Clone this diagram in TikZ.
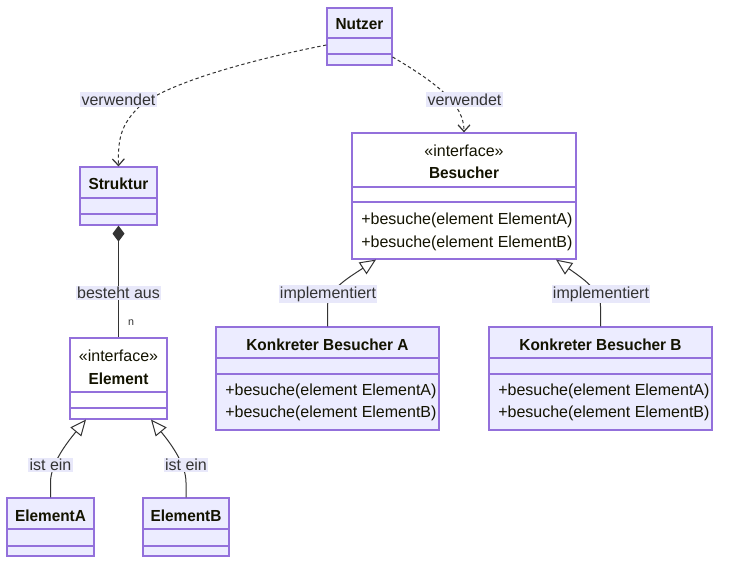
\documentclass[tikz,border=0pt]{standalone}
\usepackage{fontspec}
\setmainfont{Liberation Sans}
\newfontfamily\titlefont[FakeStretch=0.96]{Liberation Sans}
\usetikzlibrary{arrows.meta,fit,calc}
\definecolor{boxfill}{HTML}{ECECFF}
\definecolor{boxline}{HTML}{9370DB}
\definecolor{edgecol}{HTML}{333333}
\definecolor{lblbg}{HTML}{E8E8FA}
\definecolor{txt}{HTML}{131300}
\begin{document}
\begin{tikzpicture}[x=0.75pt,y=-0.75pt,
  cls/.style={draw=boxline, fill=boxfill, line width=0.9pt, inner sep=0pt},
  iface/.style={cls, fill=white},
  divider/.style={draw=boxline, line width=0.9pt},
  title/.style={font=\titlefont\bfseries\fontsize{12}{14}\selectfont, text=txt, inner sep=0pt},
  member/.style={font=\fontsize{12}{14}\selectfont, text=txt, inner sep=0pt, anchor=west},
  stereo/.style={font=\fontsize{12}{14}\selectfont, text=txt, inner sep=0pt},
  elabel/.style={fill=lblbg, text=edgecol, font=\fontsize{12}{14}\selectfont, inner sep=1pt},
  mult/.style={text=edgecol, font=\fontsize{8}{9}\selectfont, inner sep=0pt},
  conn/.style={draw=edgecol, line width=0.75pt},
  dep/.style={conn, dash pattern=on 2.5pt off 2pt, -{Straight Barb[length=5pt,width=9pt,line width=0.9pt]}},
  inherit/.style={conn, -{Triangle[length=12pt,width=10.5pt,fill=white,line width=0.75pt]}},
  comp/.style={conn, {Diamond[length=12pt,width=9pt,fill=edgecol]}-}
]
\path[use as bounding box, fill=white] (0,0) rectangle (729,570);

% ---------- boxes ----------
% Nutzer
\node[cls, fit={(327,8)(392,65)}] (nutzer) {};
\draw[divider] (327,38) -- (392,38) (327,54) -- (392,54);
\node[title] (nutzerT) at (359.5,24) {Nutzer};

% Struktur
\node[cls, fit={(80,167)(157,225)}] (struktur) {};
\draw[divider] (80,198) -- (157,198) (80,214) -- (157,214);
\node[title] (strukturT) at (118.5,184) {Struktur};

% Besucher
\node[iface, fit={(352,133)(576,259)}] (besucher) {};
\draw[divider] (352,187) -- (576,187) (352,202) -- (576,202);
\node[stereo] (besucherS) at (464,151) {«interface»};
\node[title] (besucherT) at (464,173) {Besucher};
\node[member] (besucherM1) at (361,220) {+besuche(element ElementA)};
\node[member] (besucherM2) at (361,243) {+besuche(element ElementB)};

% Element
\node[iface, fit={(70,338)(167,419)}] (element) {};
\draw[divider] (70,392) -- (167,392) (70,408) -- (167,408);
\node[stereo] (elementS) at (118.5,356) {«interface»};
\node[title] (elementT) at (118.5,379) {Element};

% ElementA
\node[cls, fit={(7,498)(94,556)}] (ela) {};
\draw[divider] (7,529) -- (94,529) (7,546) -- (94,546);
\node[title] (elaT) at (50.5,516) {ElementA};

% ElementB
\node[cls, fit={(143,498)(229,556)}] (elb) {};
\draw[divider] (143,529) -- (229,529) (143,546) -- (229,546);
\node[title] (elbT) at (186,516) {ElementB};

% Konkreter Besucher A
\node[cls, fit={(216,327)(439,430)}] (kba) {};
\draw[divider] (216,358) -- (439,358) (216,374) -- (439,374);
\node[title] (kbaT) at (327.5,345) {Konkreter Besucher A};
\node[member] (kbaM1) at (225,391) {+besuche(element ElementA)};
\node[member] (kbaM2) at (225,413) {+besuche(element ElementB)};

% Konkreter Besucher B
\node[cls, fit={(489,327)(712,430)}] (kbb) {};
\draw[divider] (489,358) -- (712,358) (489,374) -- (712,374);
\node[title] (kbbT) at (600.5,345) {Konkreter Besucher B};
\node[member] (kbbM1) at (498,391) {+besuche(element ElementA)};
\node[member] (kbbM2) at (498,413) {+besuche(element ElementB)};

% ---------- connectors ----------
\draw[dep] ($(nutzer.west)+(0,8.5)$) .. controls (240,62) and (165,85) .. (140,106)
           .. controls (120,125) and (118,140) .. (struktur.north);
\draw[dep] ($(nutzer.east)+(0,20.5)$) .. controls (440,85) and (464,105) .. (besucher.north);
\draw[comp] (struktur.south) -- (element.north);
\draw[inherit] (kba.north) -- ++(0,-20) .. controls (327.5,290) and (348,278) .. ($(besucher.south)+(-88,0)$);
\draw[inherit] (kbb.north) -- ++(0,-20) .. controls (600.5,290) and (582,278) .. ($(besucher.south)+(92,0)$);
\draw[inherit] (ela.north) -- ++(0,-15) .. controls (50.5,465) and (65,445) .. ($(element.south)+(-32.5,0)$);
\draw[inherit] (elb.north) -- ++(0,-15) .. controls (186,465) and (172,445) .. ($(element.south)+(32.5,0)$);

% ---------- labels ----------
\node[elabel] (lv1) at (118.5,99.5) {verwendet};
\node[elabel] (lv2) at (464.5,99.5) {verwendet};
\node[elabel] (lbes) at (118.5,293) {besteht aus};
\node[mult] (lmult) at (131,323) {n};
\node[elabel] (limplA) at (328,294) {implementiert};
\node[elabel] (limplB) at (601,294) {implementiert};
\node[elabel] (listA) at (50.5,465) {ist ein};
\node[elabel] (listB) at (186,465) {ist ein};
\end{tikzpicture}
\end{document}
